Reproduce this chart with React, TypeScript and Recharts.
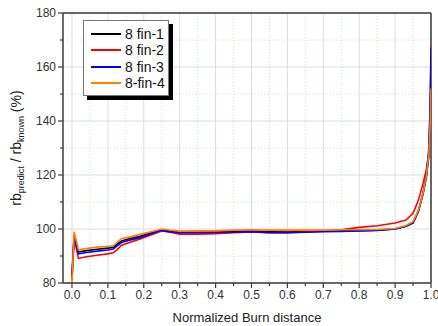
import React from "react";
import {
  LineChart,
  Line,
  XAxis,
  YAxis,
  CartesianGrid,
  Legend,
  ReferenceLine,
  Label,
} from "recharts";

// normalized burn distance samples
const burnDistance = [
  0, 0.006, 0.018, 0.04, 0.07, 0.1, 0.115, 0.125, 0.138, 0.16, 0.19, 0.22, 0.25, 0.27, 0.3, 0.35,
  0.4, 0.45, 0.5, 0.55, 0.6, 0.65, 0.7, 0.75, 0.8, 0.85, 0.9, 0.93, 0.95, 0.965, 0.978, 0.987,
  0.994, 0.998, 1.0,
];

const fin1 = [
  82, 97.5, 91.5, 92.0, 92.5, 92.9, 93.2, 94.3, 95.6, 96.4, 97.3, 98.5, 99.7, 99.3, 98.8, 98.8,
  98.9, 99.1, 99.2, 99.0, 98.9, 99.1, 99.2, 99.3, 99.4, 99.6, 100.0, 101.0, 102.3, 106.5, 113,
  119, 127, 142, 160,
];
const fin2 = [
  81, 96.5, 89.1, 89.7, 90.3, 90.8, 91.2, 92.3, 94.0, 95.0, 96.3, 97.8, 99.3, 98.9, 98.1, 98.1,
  98.3, 98.6, 98.9, 98.6, 98.6, 98.9, 99.2, 99.7, 100.6, 101.2, 102.2, 103.3, 105.8, 110.7, 117,
  122, 128, 145, 168,
];
const fin3 = [
  83, 97.7, 90.8, 91.3, 91.8, 92.2, 92.6, 93.7, 95.0, 95.8, 96.8, 98.2, 99.5, 99.0, 98.6, 98.6,
  98.7, 98.8, 99.0, 98.6, 98.6, 98.8, 99.0, 99.1, 99.3, 99.5, 100.0, 101.0, 102.3, 106.8, 113.5,
  120, 130, 148, 167,
];
const fin4 = [
  80, 99.0, 92.3, 92.8, 93.3, 93.6, 93.8, 95.0, 96.5, 97.0, 98.0, 99.0, 100.0, 99.6, 99.2, 99.3,
  99.3, 99.6, 99.7, 99.6, 99.6, 99.6, 99.6, 99.7, 99.7, 99.8, 100.2, 101.3, 102.7, 107, 113.3,
  119.5, 128, 140, 152,
];

const seriesNames = ["8 fin-1", "8 fin-2", "8 fin-3", "8-fin-4"];
const seriesKeys = ["fin1", "fin2", "fin3", "fin4"];
const seriesColors = ["#000000", "#ff0000", "#0000ff", "#ff8000"];

const xMajorTicks = [0, 0.1, 0.2, 0.3, 0.4, 0.5, 0.6, 0.7, 0.8, 0.9, 1.0];
const xMinorTicks = [0.05, 0.15, 0.25, 0.35, 0.45, 0.55, 0.65, 0.75, 0.85, 0.95];
const yMajorTicks = [80, 100, 120, 140, 160, 180];
const yMinorTicks = [90, 110, 130, 150, 170];

const data = burnDistance.map((x, i) => ({
  x,
  fin1: fin1[i],
  fin2: fin2[i],
  fin3: fin3[i],
  fin4: fin4[i],
}));

const FONT = "'Liberation Sans', Arial, sans-serif";
const AXIS = "#3a3a3a";

const XTick = (props: any) => {
  const { x, y, payload } = props;
  const major = xMajorTicks.includes(payload.value);
  return (
    <g>
      <line x1={x} y1={y} x2={x} y2={y + (major ? 5 : 3)} stroke={AXIS} strokeWidth={1.2} />
      {major && (
        <text x={x} y={y + 16} textAnchor="middle" fontSize={12} fill="#333" fontFamily={FONT}>
          {payload.value.toFixed(1)}
        </text>
      )}
    </g>
  );
};

const YTick = (props: any) => {
  const { x, y, payload } = props;
  const major = yMajorTicks.includes(payload.value);
  return (
    <g>
      <line x1={x} y1={y} x2={x - (major ? 5 : 3)} y2={y} stroke={AXIS} strokeWidth={1.2} />
      {major && (
        <text x={x - 7} y={y} dy="0.35em" textAnchor="end" fontSize={12} fill="#333" fontFamily={FONT}>
          {payload.value}
        </text>
      )}
    </g>
  );
};

const YLabel = (props: any) => {
  const vb = props.viewBox;
  const cy = vb.y + vb.height / 2;
  const cx = 21;
  return (
    <text
      x={cx}
      y={cy}
      transform={`rotate(-90, ${cx}, ${cy})`}
      textAnchor="middle"
      fontSize={14}
      fill="#222"
      fontFamily={FONT}
    >
      rb
      <tspan fontSize={9} dy={3}>predict</tspan>
      <tspan dy={-3}> / rb</tspan>
      <tspan fontSize={9} dy={3}>known</tspan>
      <tspan dy={-3}> (%)</tspan>
    </text>
  );
};

const LegendBox = () => (
  <div
    style={{
      background: "#fff",
      border: "1px solid #777",
      boxShadow: "4px 4px 0 #000",
      padding: "5px 0 4px 0",
      fontFamily: FONT,
      fontSize: 14,
      color: "#111",
    }}
  >
    {seriesNames.map((name, i) => (
      <div key={name} style={{ display: "flex", alignItems: "center", height: 16.3 }}>
        <div style={{ width: 30, height: 2, background: seriesColors[i], marginLeft: 7, marginRight: 4 }} />
        <span>{name}</span>
      </div>
    ))}
  </div>
);

export default function App() {
  return (
    <div style={{ position: "absolute", left: 0, top: 0, background: "#fff" }}>
      <LineChart width={438} height={326} data={data} margin={{ top: 13, right: 7, bottom: 0, left: 0 }}>
        <CartesianGrid
          stroke="#dcdcdc"
          strokeWidth={1}
          verticalValues={xMajorTicks}
          horizontalValues={yMajorTicks}
        />
        <CartesianGrid
          stroke="#b5f0b5"
          strokeDasharray="1 2"
          strokeWidth={1}
          verticalValues={xMinorTicks}
          horizontalValues={yMinorTicks}
        />
        <XAxis
          dataKey="x"
          type="number"
          domain={[-0.025, 1.0]}
          ticks={[...xMajorTicks, ...xMinorTicks]}
          interval={0}
          tickSize={0}
          tickMargin={0}
          tickLine={false}
          tick={<XTick />}
          height={43}
          stroke={AXIS}
          strokeWidth={1.5}
          allowDataOverflow
        >
          <Label
            value="Normalized Burn distance"
            position="insideBottom"
            offset={4}
            fontSize={13}
            fill="#222"
            fontFamily={FONT}
          />
        </XAxis>
        <YAxis
          type="number"
          domain={[80, 180]}
          ticks={[...yMajorTicks, ...yMinorTicks]}
          interval={0}
          tickSize={0}
          tickMargin={0}
          tickLine={false}
          tick={<YTick />}
          width={63}
          stroke={AXIS}
          strokeWidth={1.5}
          allowDataOverflow
        >
          <Label content={<YLabel />} />
        </YAxis>
        <ReferenceLine y={180} stroke={AXIS} strokeWidth={1.5} />
        <ReferenceLine x={1.0} stroke={AXIS} strokeWidth={1.5} />
        <Legend
          layout="vertical"
          align="center"
          verticalAlign="middle"
          content={<LegendBox />}
          wrapperStyle={{ left: 83, top: 20, width: 86 }}
        />
        {seriesKeys.map((k, i) => (
          <Line
            key={k}
            type="linear"
            dataKey={k}
            name={seriesNames[i]}
            stroke={seriesColors[i]}
            strokeWidth={1.6}
            dot={false}
            isAnimationActive={false}
          />
        ))}
      </LineChart>
    </div>
  );
}
